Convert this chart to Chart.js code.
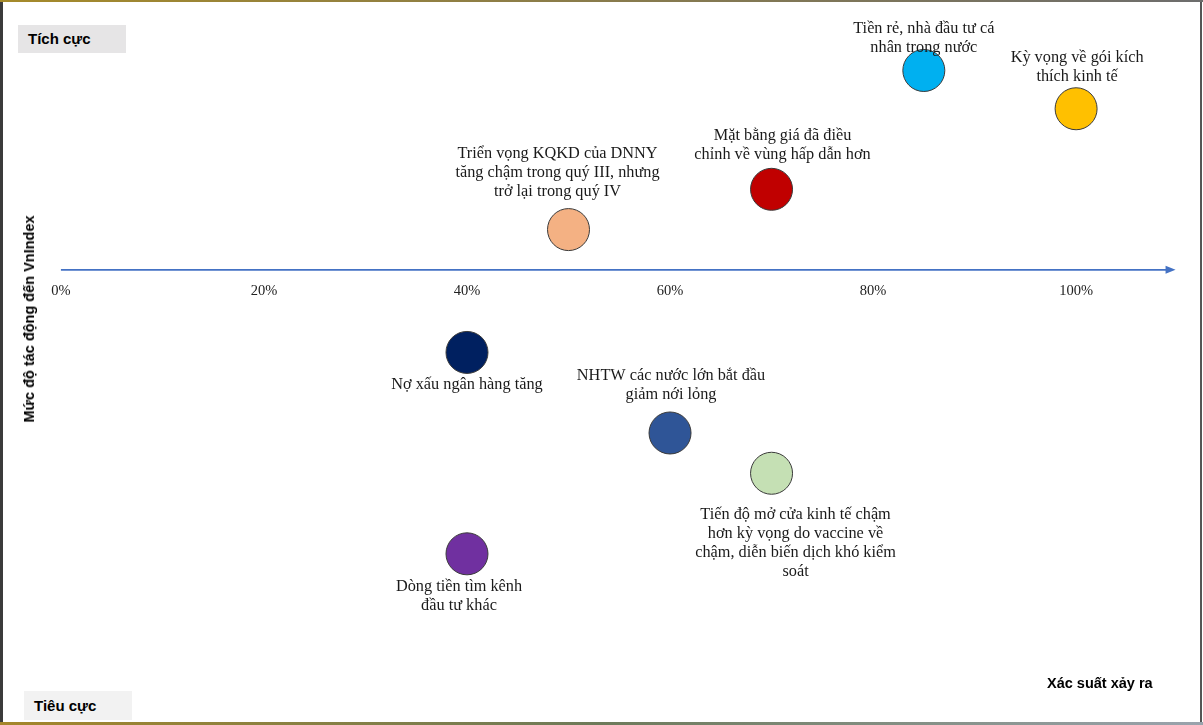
<!DOCTYPE html>
<html>
<head>
<meta charset="utf-8">
<script src="https://cdn.jsdelivr.net/npm/chart.js"></script>
<style>
  html, body { margin: 0; padding: 0; background: #fff; }
  #wrap { position: relative; width: 1203px; height: 725px; overflow: hidden; }
  #chart { position: absolute; left: 0; top: 0; }
  .frame { position: absolute; pointer-events: none; }
  .tag { position: absolute; background: #e6e5e6; font: bold 15px "Liberation Sans", Arial, sans-serif; color: #000; box-sizing: border-box; padding-left: 10px; line-height: 29px; }
  .title { position: absolute; font: bold 14.5px "Liberation Sans", Arial, sans-serif; color: #000; }
</style>
</head>
<body>
<div id="wrap">
  <canvas id="chart" width="1203" height="725"></canvas>
  <div class="tag" style="left:18px; top:25px; width:108px; height:28px; line-height:28px;">Tích cực</div>
  <div class="tag" style="left:24px; top:691px; width:108px; height:29px; background:#f2f2f2;">Tiêu cực</div>
  <div class="title" style="left:1047px; top:675px;">Xác suất xảy ra</div>
  <div class="title" style="left:29px; top:319px; transform: translate(-50%, -50%) rotate(-90deg); white-space: nowrap;">Mức độ tác động đến VnIndex</div>
  <div class="frame" style="left:0; top:0; width:3px; height:725px; background:#3b3b3b;"></div>
  <div class="frame" style="left:1200px; top:0; width:2px; height:725px; background:#555;"></div>
  <div class="frame" style="left:0; top:0; width:1203px; height:2px; background:linear-gradient(90deg,#a58a2a,#6d6d6d);"></div>
  <div class="frame" style="left:0; top:722px; width:1203px; height:3px; background:linear-gradient(90deg,#a5862a,#6d7a5a,#9aa3ad);"></div>
</div>
<script>
// Dữ liệu: xác suất xảy ra (%) và mức độ tác động
const factorLabels = [
  ["Tiền rẻ, nhà đầu tư cá", "nhân trong nước"],
  ["Kỳ vọng về gói kích", "thích kinh tế"],
  ["Mặt bằng giá đã điều", "chỉnh về vùng hấp dẫn hơn"],
  ["Triển vọng KQKD của DNNY", "tăng chậm trong quý III, nhưng", "trở lại trong quý IV"],
  ["Nợ xấu ngân hàng tăng"],
  ["NHTW các nước lớn bắt đầu", "giảm nới lỏng"],
  ["Tiến độ mở cửa kinh tế chậm", "hơn kỳ vọng do vaccine về", "chậm, diễn biến dịch khó kiểm", "soát"],
  ["Dòng tiền tìm kênh", "đầu tư khác"]
];
const probability = [85, 100, 70, 50, 40, 60, 70, 40];
const impact = [4.95, 4, 2, 1, -2.05, -4.05, -5.05, -7.05];
const xTicks = [0, 20, 40, 60, 80, 100];

// Kiểu hiển thị
const pointColors = ["#00b0f0", "#ffc000", "#c00000", "#f4b183", "#002060", "#2f5597", "#c5e0b4", "#7030a0"];
const labelOffsets = [[0, -42], [1, -51], [11, -54], [-11, -76], [0, 32], [1, -57], [24, 41], [-8, 33]];
const axisColor = "#4472c4";

const axisPlugin = {
  id: "zeroAxis",
  beforeDatasetsDraw(chart) {
    const ctx = chart.ctx;
    const xs = chart.scales.x, ys = chart.scales.y;
    const y0 = ys.getPixelForValue(0);
    const xStart = xs.getPixelForValue(0);
    const xEnd = xs.getPixelForValue(109.8);
    ctx.save();
    ctx.strokeStyle = axisColor;
    ctx.fillStyle = axisColor;
    ctx.lineWidth = 1.6;
    ctx.beginPath();
    ctx.moveTo(xStart, y0);
    ctx.lineTo(xEnd - 8, y0);
    ctx.stroke();
    ctx.beginPath();
    ctx.moveTo(xEnd, y0);
    ctx.lineTo(xEnd - 10, y0 - 4);
    ctx.lineTo(xEnd - 10, y0 + 4);
    ctx.closePath();
    ctx.fill();

    ctx.fillStyle = "#222";
    ctx.font = "14.5px 'Liberation Serif', 'Times New Roman', serif";
    ctx.textAlign = "center";
    ctx.textBaseline = "middle";
    xTicks.forEach(v => {
      ctx.fillText(v + "%", xs.getPixelForValue(v), y0 + 21);
    });
    ctx.restore();
  },
  afterDatasetsDraw(chart) {
    const ctx = chart.ctx;
    const meta = chart.getDatasetMeta(0);
    ctx.save();
    ctx.fillStyle = "#1a1a1a";
    ctx.font = "16.3px 'Liberation Serif', 'Times New Roman', serif";
    ctx.textAlign = "center";
    ctx.textBaseline = "middle";
    meta.data.forEach((pt, i) => {
      const [dx, dy] = labelOffsets[i];
      factorLabels[i].forEach((line, j) => {
        ctx.fillText(line, pt.x + dx, pt.y + dy + j * 19);
      });
    });
    ctx.restore();
  }
};

new Chart(document.getElementById("chart"), {
  type: "scatter",
  data: {
    datasets: [{
      data: probability.map((p, i) => ({ x: p, y: impact[i] })),
      pointRadius: 21,
      pointHoverRadius: 21,
      pointBackgroundColor: pointColors,
      pointBorderColor: "#3a3a3a",
      pointBorderWidth: 1
    }]
  },
  options: {
    responsive: false,
    animation: false,
    layout: { padding: 0, autoPadding: false },
    plugins: { legend: { display: false }, tooltip: { enabled: false } },
    scales: {
      x: { type: "linear", display: false, min: -6, max: 112.5 },
      y: { type: "linear", display: false, min: -11.3, max: 6.7 }
    }
  },
  plugins: [axisPlugin]
});
</script>
</body>
</html>
